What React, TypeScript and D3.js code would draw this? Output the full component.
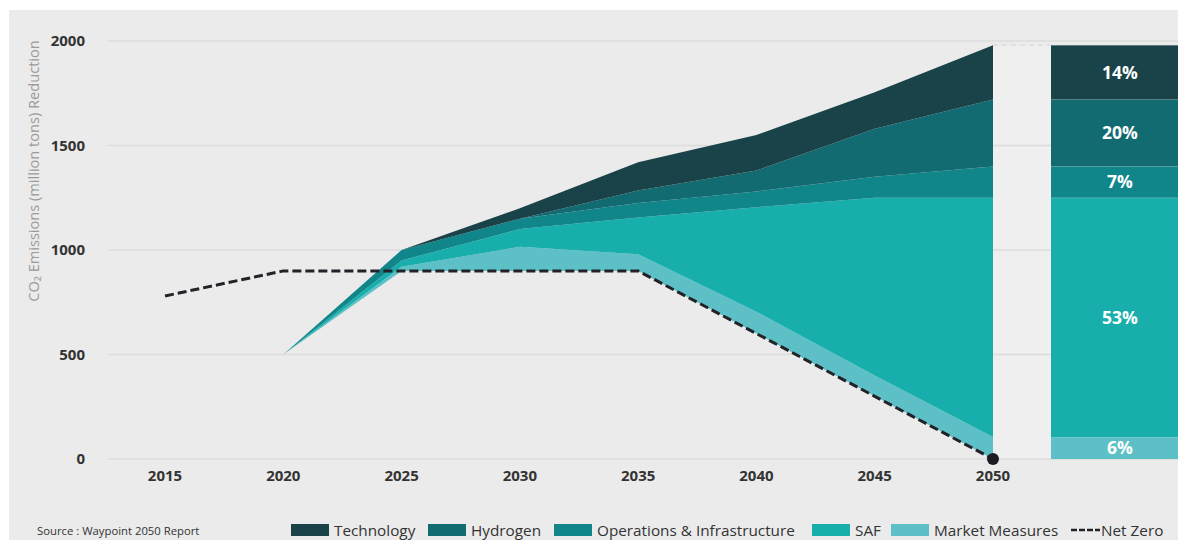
import React from "react";
import * as d3 from "d3";

const years = [2020, 2025, 2030, 2035, 2040, 2045, 2050];
const baseline = [500, 900, 900, 900, 600, 300, 0];
const marketMeasures = [0, 20, 115, 80, 105, 100, 105];
const saf = [0, 30, 85, 175, 500, 850, 1145];
const operations = [0, 50, 50, 70, 75, 100, 150];
const hydrogen = [0, 0, 0, 60, 100, 230, 320];
const technology = [0, 0, 50, 135, 170, 175, 260];

const netZeroYears = [2015, 2020, 2025, 2030, 2035, 2040, 2045, 2050];
const netZero = [780, 900, 900, 900, 900, 600, 300, 0];

const xTicks = [2015, 2020, 2025, 2030, 2035, 2040, 2045, 2050];
const yTicks = [0, 500, 1000, 1500, 2000];

const seriesNames = ["Market Measures", "SAF", "Operations & Infrastructure", "Hydrogen", "Technology"];
const seriesKeys = ["mm", "saf", "ops", "hyd", "tech"];
const seriesColors = ["#5cc0c6", "#17aeac", "#10868a", "#136b72", "#1a4349"];
const barLabels = ["6%", "53%", "7%", "20%", "14%"];

const legendOrder = ["Technology", "Hydrogen", "Operations & Infrastructure", "SAF", "Market Measures"];

const FONT = "'Open Sans', 'Noto Sans', sans-serif";

export default function App() {
  const W = 1178;
  const H = 540;
  const x = d3.scaleLinear().domain([2015, 2050]).range([165, 993]);
  const y = d3.scaleLinear().domain([0, 2000]).range([459, 41]);

  const table = years.map((yr, i) => ({
    year: yr,
    base: baseline[i],
    mm: marketMeasures[i],
    saf: saf[i],
    ops: operations[i],
    hyd: hydrogen[i],
    tech: technology[i],
  }));
  const stack = d3.stack<any>().keys(["base", ...seriesKeys]);
  const stacked = stack(table);
  const area = d3
    .area<any>()
    .x((d) => x(d.data.year))
    .y0((d) => y(d[0]))
    .y1((d) => y(d[1]));

  const nzLine = d3
    .line<number>()
    .x((_, i) => x(netZeroYears[i]))
    .y((d) => y(d));

  // right bar: 2050 values stacked from zero
  const last = years.length - 1;
  const barVals = [marketMeasures[last], saf[last], operations[last], hydrogen[last], technology[last]];
  const barSegs: { y0: number; y1: number }[] = [];
  let acc = 0;
  barVals.forEach((v) => {
    barSegs.push({ y0: acc, y1: acc + v });
    acc += v;
  });
  const barX = 1051;
  const barW = 138;
  const gapX = x(2050);

  const legendX = [291, 428, 554, 812, 891];
  const legendY = 524;

  return (
    <svg width={W} height={H} style={{ position: "absolute", left: 0, top: 0 }} fontFamily={FONT}>
      <rect x={0} y={0} width={W} height={H} fill="#ffffff" />
      <rect x={9} y={10} width={W - 9} height={H - 10} fill="#ebebeb" />
      <rect x={gapX} y={y(acc)} width={barX - gapX} height={y(0) - y(acc)} fill="#efefef" />
      {yTicks.map((t) => (
        <line key={t} x1={108} x2={W} y1={y(t)} y2={y(t)} stroke="#dcdcdc" strokeWidth={1.5} />
      ))}
      <line x1={gapX} x2={barX} y1={y(acc)} y2={y(acc)} stroke="#d6d6d6" strokeWidth={1} strokeDasharray="5,4" />
      {stacked.slice(1).map((s, i) => (
        <path key={seriesKeys[i]} d={area(s) || ""} fill={seriesColors[i]} />
      ))}
      <path
        d={nzLine(netZero) || ""}
        fill="none"
        stroke="#222228"
        strokeWidth={3}
        strokeDasharray="9,4"
      />
      <circle cx={x(2050)} cy={y(0)} r={6} fill="#1c1c24" />
      {barSegs.map((s, i) => (
        <g key={i}>
          <rect x={barX} y={y(s.y1)} width={barW} height={y(s.y0) - y(s.y1)} fill={seriesColors[i]} />
          <line x1={barX} x2={barX + barW} y1={y(s.y1)} y2={y(s.y1)} stroke="rgba(255,255,255,0.25)" strokeWidth={1} />
          <text
            x={barX + barW / 2}
            y={(y(s.y0) + y(s.y1)) / 2}
            dy="0.36em"
            textAnchor="middle"
            fill="#ffffff"
            fontWeight="bold"
            fontSize={17.5}
          >
            {barLabels[i]}
          </text>
        </g>
      ))}
      {yTicks.map((t) => (
        <text key={t} x={85} y={y(t)} dy="0.36em" textAnchor="end" fontSize={15} fontWeight="bold" fill="#333333">
          {t}
        </text>
      ))}
      {xTicks.map((t) => (
        <text key={t} x={x(t)} y={481} textAnchor="middle" fontSize={15} fontWeight="bold" fill="#333333">
          {t}
        </text>
      ))}
      <text
        transform={`translate(39,171) rotate(-90)`}
        textAnchor="middle"
        fontSize={14.6}
        fill="#9a9a9a"
      >
        CO₂ Emissions (million tons) Reduction
      </text>
      <text x={37} y={535} fontSize={11.3} fill="#333333">
        Source : Waypoint 2050 Report
      </text>
      {legendOrder.map((name, i) => {
        const idx = seriesNames.indexOf(name);
        return (
          <g key={name}>
            <rect x={legendX[i]} y={legendY} width={38} height={12} fill={seriesColors[idx]} />
            <text x={legendX[i] + 43} y={legendY + 12} fontSize={15.3} fill="#333333">
              {name}
            </text>
          </g>
        );
      })}
      <line x1={1071} x2={1100} y1={530} y2={530} stroke="#222228" strokeWidth={2.5} strokeDasharray="6,2" />
      <text x={1101} y={legendY + 12} fontSize={15.3} fill="#333333">
        Net Zero
      </text>
    </svg>
  );
}
